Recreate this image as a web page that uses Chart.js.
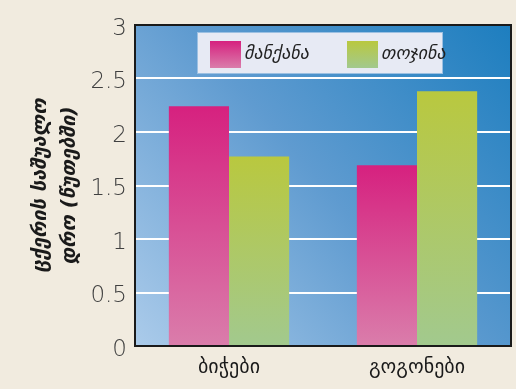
<!DOCTYPE html>
<html>
<head>
<meta charset="utf-8">
<script src="https://cdn.jsdelivr.net/npm/chart.js@4"></script>
<style>
  html, body { margin: 0; padding: 0; background: #f1ebdf; }
  #wrap { width: 516px; height: 389px; }
</style>
</head>
<body>
<div id="wrap"><canvas id="myChart" width="516" height="389"></canvas></div>
<script>
const categories = ['ბიჭები', 'გოგონები'];
const seriesNames = ['მანქანა', 'თოჯინა'];
const carValues = [2.24, 1.69];
const dollValues = [1.77, 2.38];
const yTitle = ['ცქერის საშუალო', 'დრო (წუთებში)'];

const barGradient = (top, bottom) => (context) => {
  const chart = context.chart;
  const y = chart.scales.y;
  if (!chart.chartArea || !y || context.raw === undefined) return top;
  const y0 = y.getPixelForValue(context.raw);
  const y1 = y.getPixelForValue(0);
  const g = chart.ctx.createLinearGradient(0, y0, 0, y1);
  g.addColorStop(0, top);
  g.addColorStop(1, bottom);
  return g;
};

const plotBackground = {
  id: 'plotBackground',
  beforeDatasetsDraw(chart) {
    const { ctx, chartArea: a } = chart;
    ctx.save();
    const g = ctx.createLinearGradient(a.left, a.bottom, a.right, a.top);
    g.addColorStop(0, '#abcbea');
    g.addColorStop(0.5, '#5f9bd0');
    g.addColorStop(1, '#1d7ebf');
    ctx.fillStyle = g;
    ctx.fillRect(a.left, a.top, a.right - a.left, a.bottom - a.top);
    // white gridlines
    const y = chart.scales.y;
    ctx.strokeStyle = '#ffffff';
    ctx.lineWidth = 2;
    y.ticks.forEach(t => {
      if (t.value <= 0 || t.value >= 3) return;
      const py = Math.round(y.getPixelForValue(t.value));
      ctx.beginPath();
      ctx.moveTo(a.left, py);
      ctx.lineTo(a.right, py);
      ctx.stroke();
    });
    ctx.restore();
  },
  afterDatasetsDraw(chart) {
    const { ctx, chartArea: a } = chart;
    ctx.save();
    // legend box
    const lx = a.left + 62, ly = a.top + 7;
    ctx.fillStyle = '#e7eaf4';
    ctx.fillRect(lx, ly, 245, 41);
    ctx.strokeStyle = '#9cc0e2';
    ctx.lineWidth = 1;
    ctx.strokeRect(lx + 0.5, ly + 0.5, 245, 41);
    const items = [
      { x: lx + 13, top: '#d6217f', bottom: '#da7dab' },
      { x: lx + 150, top: '#b9c83f', bottom: '#a2c98e' },
    ];
    ctx.font = 'italic 18px "DejaVu Sans"';
    ctx.textBaseline = 'middle';
    items.forEach((it, i) => {
      const g = ctx.createLinearGradient(0, ly + 9, 0, ly + 36);
      g.addColorStop(0, it.top);
      g.addColorStop(1, it.bottom);
      ctx.fillStyle = g;
      ctx.fillRect(it.x, ly + 9, 31, 27);
      ctx.fillStyle = '#222';
      ctx.fillText(chart.data.datasets[i].label, it.x + 34, ly + 22);
    });
    // plot border
    ctx.strokeStyle = '#1a1a1a';
    ctx.lineWidth = 2;
    ctx.strokeRect(a.left, a.top, a.right - a.left, a.bottom - a.top);
    ctx.restore();
  }
};

const main = () => {
  const ctx = document.getElementById('myChart').getContext('2d');
  const config = {
    type: 'bar',
    data: {
      labels: categories,
      datasets: [
        {
          label: seriesNames[0],
          data: carValues,
          backgroundColor: barGradient('#d6217f', '#da7dab'),
          borderWidth: 0,
          categoryPercentage: 0.64,
          barPercentage: 1,
        },
        {
          label: seriesNames[1],
          data: dollValues,
          backgroundColor: barGradient('#b9c83f', '#a2c98e'),
          borderWidth: 0,
          categoryPercentage: 0.64,
          barPercentage: 1,
        },
      ],
    },
    options: {
      responsive: false,
      animation: false,
      layout: { padding: { top: 25, right: 5, left: 0, bottom: 0 } },
      plugins: {
        legend: { display: false },
        tooltip: { enabled: false },
      },
      scales: {
        x: {
          grid: { display: false, drawTicks: false },
          border: { display: false },
          ticks: {
            color: '#1a1a1a',
            font: { family: 'DejaVu Sans', size: 20 },
            padding: 10,
          },
          afterFit: (s) => { s.height = 43; },
        },
        y: {
          min: 0,
          max: 3,
          grid: { display: false, drawTicks: false },
          border: { display: false },
          ticks: {
            stepSize: 0.5,
            color: '#404040',
            font: { family: 'DejaVu Sans', size: 23, weight: '200' },
            padding: 8,
            labelOffset: 4,
            callback: (v) => String(v),
          },
          title: {
            display: true,
            text: yTitle,
            color: '#1a1a1a',
            font: { family: 'DejaVu Sans', size: 20, weight: 'bold', style: 'italic', lineHeight: 1.45 },
            padding: { top: 26, bottom: 0 },
          },
          afterFit: (s) => { s.width = 135; },
        },
      },
    },
    plugins: [plotBackground],
  };
  const myChart = new Chart(ctx, config);
};

main();
</script>
</body>
</html>
